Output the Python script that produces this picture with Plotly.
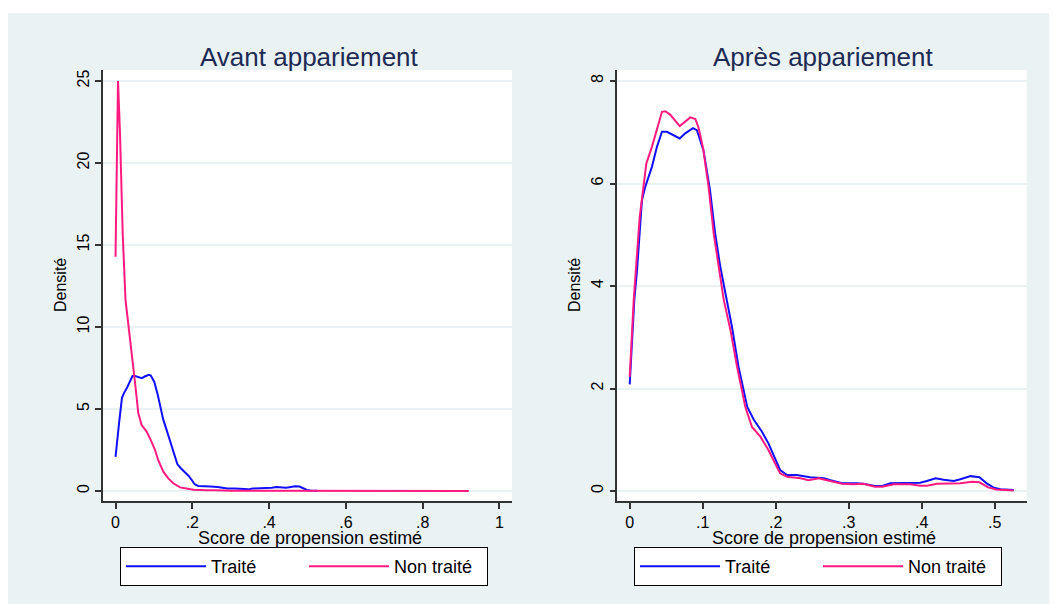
import plotly.graph_objects as go

# ---------------- data ----------------
treated_x = [0, 0.0063, 0.010, 0.0168, 0.0214, 0.0305, 0.0374, 0.0442, 0.051, 0.060,
             0.0685, 0.076, 0.0867, 0.092, 0.101, 0.110, 0.117, 0.124, 0.133, 0.140,
             0.149, 0.161, 0.170, 0.181, 0.190, 0.1995, 0.206, 0.2155, 0.229, 0.247,
             0.266, 0.275, 0.291, 0.311, 0.320, 0.336, 0.346, 0.357, 0.384, 0.398,
             0.407, 0.419, 0.430, 0.444, 0.453, 0.467, 0.479, 0.489, 0.4986, 0.508, 0.526]
treated_y = [2.08, 3.73, 4.3, 5.68, 5.94, 6.33, 6.72, 7.01, 7.01, 6.95,
             6.88, 6.98, 7.08, 7.04, 6.65, 5.87, 5.03, 4.38, 3.73, 3.21,
             2.43, 1.64, 1.39, 1.16, 0.93, 0.64, 0.41, 0.31, 0.31, 0.27,
             0.25, 0.21, 0.15, 0.15, 0.14, 0.10, 0.10, 0.15, 0.155, 0.16,
             0.195, 0.25, 0.22, 0.195, 0.23, 0.29, 0.27, 0.15, 0.065, 0.035, 0.02]

control_before_x = [0, 0.0065, 0.0117, 0.0187, 0.026, 0.0334, 0.042, 0.051, 0.0594, 0.068,
                    0.081, 0.094, 0.103, 0.111, 0.1245, 0.1375, 0.1505, 0.168, 0.185, 0.203,
                    0.237, 0.26, 0.30, 0.40, 0.50, 0.60, 0.70, 0.80, 0.92]
control_before_y = [14.29, 25.0, 21.8, 15.7, 11.65, 10.0, 8.4, 6.57, 4.74, 4.02,
                    3.62, 3.0, 2.5, 1.89, 1.18, 0.77, 0.47, 0.22, 0.14, 0.08,
                    0.04, 0.05, 0.02, 0.01, 0.01, 0.005, 0.003, 0.002, 0.001]

control_after_x = [0, 0.0055, 0.0137, 0.019, 0.0228, 0.0305, 0.0374, 0.0442, 0.0488, 0.0557,
                   0.0685, 0.076, 0.083, 0.090, 0.0945, 0.1005, 0.108, 0.115, 0.1288, 0.138,
                   0.147, 0.1584, 0.1675, 0.179, 0.190, 0.197, 0.206, 0.2155, 0.234, 0.245,
                   0.259, 0.270, 0.291, 0.306, 0.320, 0.336, 0.346, 0.362, 0.384, 0.398,
                   0.407, 0.421, 0.444, 0.453, 0.469, 0.479, 0.491, 0.502, 0.526]
control_after_y = [2.23, 3.73, 5.35, 6.0, 6.39, 6.72, 7.04, 7.40, 7.41, 7.34,
                   7.12, 7.21, 7.29, 7.26, 7.08, 6.69, 5.94, 5.03, 3.73, 3.14,
                   2.43, 1.64, 1.25, 1.06, 0.80, 0.60, 0.345, 0.28, 0.25, 0.21,
                   0.25, 0.21, 0.14, 0.13, 0.14, 0.085, 0.085, 0.13, 0.13, 0.105,
                   0.105, 0.14, 0.145, 0.15, 0.18, 0.17, 0.07, 0.03, 0.008]

series_names = ["Traité", "Non traité"]
panel_titles = ["Avant appariement", "Après appariement"]
x_title = "Score de propension estimé"
y_title = "Densité"

left_xtick_vals = [0, 0.2, 0.4, 0.6, 0.8, 1]
left_xtick_text = ["0", ".2", ".4", ".6", ".8", "1"]
left_ytick_vals = [0, 5, 10, 15, 20, 25]
right_xtick_vals = [0, 0.1, 0.2, 0.3, 0.4, 0.5]
right_xtick_text = ["0", ".1", ".2", ".3", ".4", ".5"]
right_ytick_vals = [0, 2, 4, 6, 8]

# ---------------- style ----------------
W, H = 1057, 604
OFF = 8  # the page body adds an 8 px margin around the figure
BG = "#EAF2F3"
BLUE = "#1010FF"
PINK = "#FF1A80"
TITLE_C = "#1E2B55"
AXIS_C = "#333333"
FONT = "Liberation Sans, Arial, sans-serif"


def fx(px):
    return (px - OFF) / W


def fy(py):
    return 1 - (py - OFF) / H


fig = go.Figure()

fig.add_trace(go.Scatter(x=treated_x, y=treated_y, mode="lines", name=series_names[0],
                         line=dict(color=BLUE, width=2), xaxis="x", yaxis="y", legend="legend"))
fig.add_trace(go.Scatter(x=control_before_x, y=control_before_y, mode="lines", name=series_names[1],
                         line=dict(color=PINK, width=2), xaxis="x", yaxis="y", legend="legend"))
fig.add_trace(go.Scatter(x=treated_x, y=treated_y, mode="lines", name=series_names[0],
                         line=dict(color=BLUE, width=2), xaxis="x2", yaxis="y2", legend="legend2"))
fig.add_trace(go.Scatter(x=control_after_x, y=control_after_y, mode="lines", name=series_names[1],
                         line=dict(color=PINK, width=2), xaxis="x2", yaxis="y2", legend="legend2"))

ydom = [fy(501), fy(70)]

common_x = dict(showline=True, linecolor=AXIS_C, linewidth=1.5, ticks="outside", ticklen=6,
                tickwidth=1.5, tickcolor=AXIS_C, showgrid=False, zeroline=False,
                tickfont=dict(family=FONT, size=16, color="black"), fixedrange=True)
common_y = dict(showline=True, linecolor=AXIS_C, linewidth=1.5, ticks="outside", ticklen=6,
                tickwidth=1.5, tickcolor=AXIS_C, showgrid=True, gridcolor=BG, gridwidth=1.5,
                zeroline=False, tickangle=-90,
                tickfont=dict(family=FONT, size=16, color="black"), fixedrange=True)

legend_common = dict(yanchor="top", orientation="h", xanchor="left",
                     bgcolor="white", bordercolor="black", borderwidth=1,
                     font=dict(family=FONT, size=18, color="black"),
                     entrywidth=88, entrywidthmode="pixels", itemwidth=80)

fig.update_layout(
    width=W, height=H, autosize=False,
    margin=dict(l=0, r=0, t=0, b=0, autoexpand=False),
    paper_bgcolor=BG, plot_bgcolor="white",
    font=dict(family=FONT, color="black"),
    xaxis=dict(domain=[fx(103), fx(512)], range=[-0.0326, 1.0326],
               tickvals=left_xtick_vals, ticktext=left_xtick_text, anchor="y", **common_x),
    yaxis=dict(domain=ydom, range=[-0.61, 25.67], tickvals=left_ytick_vals, anchor="x", **common_y),
    xaxis2=dict(domain=[fx(617.3), fx(1026.7)], range=[-0.017, 0.5438],
                tickvals=right_xtick_vals, ticktext=right_xtick_text, anchor="y2", **common_x),
    yaxis2=dict(domain=ydom, range=[-0.195, 8.215], tickvals=right_ytick_vals, anchor="x2", **common_y),
    legend=dict(x=fx(120), y=fy(547), **legend_common),
    legend2=dict(x=fx(634), y=fy(547), **legend_common),
    showlegend=True,
)

shapes = [
    dict(type="rect", xref="paper", yref="paper", x0=0, x1=1, y0=fy(13), y1=1,
         fillcolor="white", line=dict(width=0), layer="below"),
]
fig.update_layout(shapes=shapes)

annotations = [
    dict(text=panel_titles[0], x=fx(309), y=fy(57), xref="paper", yref="paper",
         showarrow=False, xanchor="center", yanchor="middle",
         font=dict(family=FONT, size=26, color=TITLE_C)),
    dict(text=panel_titles[1], x=fx(822.5), y=fy(57), xref="paper", yref="paper",
         showarrow=False, xanchor="center", yanchor="middle",
         font=dict(family=FONT, size=26, color=TITLE_C)),
    dict(text=x_title, x=fx(310), y=fy(538), xref="paper", yref="paper",
         showarrow=False, xanchor="center", yanchor="middle",
         font=dict(family=FONT, size=18, color="black")),
    dict(text=x_title, x=fx(823.5), y=fy(538), xref="paper", yref="paper",
         showarrow=False, xanchor="center", yanchor="middle",
         font=dict(family=FONT, size=18, color="black")),
    dict(text=y_title, x=fx(60), y=fy(285), xref="paper", yref="paper", textangle=-90,
         showarrow=False, xanchor="center", yanchor="middle",
         font=dict(family=FONT, size=16, color="black")),
    dict(text=y_title, x=fx(574), y=fy(285), xref="paper", yref="paper", textangle=-90,
         showarrow=False, xanchor="center", yanchor="middle",
         font=dict(family=FONT, size=16, color="black")),
]
fig.update_layout(annotations=annotations)

fig.write_html("out.html")
